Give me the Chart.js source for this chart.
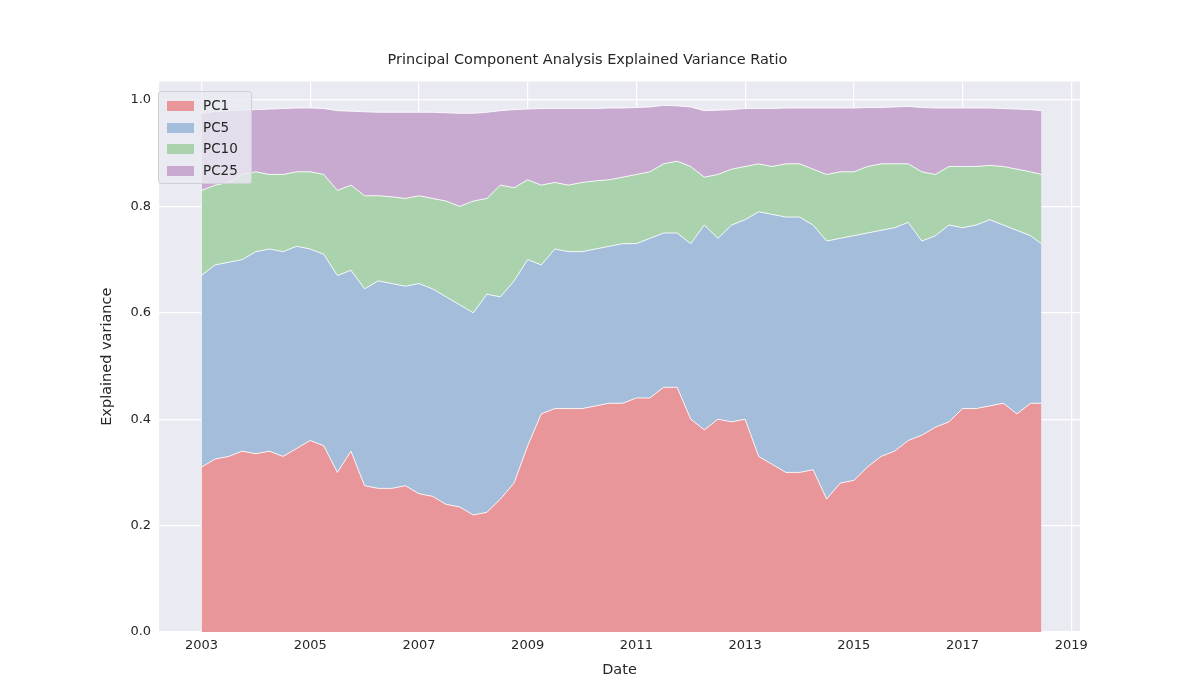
<!DOCTYPE html>
<html><head><meta charset="utf-8">
<script src="https://cdn.jsdelivr.net/npm/chart.js@4"></script>
<style>
body{margin:0;background:#fff;font-family:"DejaVu Sans",sans-serif}
#wrap{position:relative;width:1200px;height:697px}
#leg{position:absolute;left:158px;top:91px;width:92px;padding:3px 0 2px 0;background:rgba(234,234,242,0.8);border:1px solid #cfcfd6;border-radius:3px;font-size:13.5px;color:#262626}
#leg div{height:21.5px;line-height:21.5px;padding-left:8px}
#leg span{display:inline-block;width:27px;height:10px;margin-right:9px;vertical-align:-1px}
</style></head><body>
<div id="wrap"><canvas id="c" width="1200" height="697"></canvas>
<div id="leg"></div></div>
<script>
const years=[2003,2003.25,2003.5,2003.75,2004,2004.25,2004.5,2004.75,2005,2005.25,2005.5,2005.75,2006,2006.25,2006.5,2006.75,2007,2007.25,2007.5,2007.75,2008,2008.25,2008.5,2008.75,2009,2009.25,2009.5,2009.75,2010,2010.25,2010.5,2010.75,2011,2011.25,2011.5,2011.75,2012,2012.25,2012.5,2012.75,2013,2013.25,2013.5,2013.75,2014,2014.25,2014.5,2014.75,2015,2015.25,2015.5,2015.75,2016,2016.25,2016.5,2016.75,2017,2017.25,2017.5,2017.75,2018,2018.25,2018.45];
const pc1=[0.31,0.325,0.33,0.34,0.335,0.34,0.33,0.345,0.36,0.35,0.30,0.34,0.275,0.27,0.27,0.275,0.26,0.255,0.24,0.235,0.22,0.225,0.25,0.28,0.35,0.41,0.42,0.42,0.42,0.425,0.43,0.43,0.44,0.44,0.46,0.46,0.40,0.38,0.40,0.395,0.40,0.33,0.315,0.30,0.30,0.305,0.25,0.28,0.285,0.31,0.33,0.34,0.36,0.37,0.385,0.395,0.42,0.42,0.425,0.43,0.41,0.43,0.43];
const pc5=[0.67,0.69,0.695,0.70,0.715,0.72,0.715,0.725,0.72,0.71,0.67,0.68,0.645,0.66,0.655,0.65,0.655,0.645,0.63,0.615,0.60,0.635,0.63,0.66,0.70,0.69,0.72,0.715,0.715,0.72,0.725,0.73,0.73,0.74,0.75,0.75,0.73,0.765,0.74,0.765,0.775,0.79,0.785,0.78,0.78,0.765,0.735,0.74,0.745,0.75,0.755,0.76,0.77,0.735,0.745,0.765,0.76,0.765,0.775,0.765,0.755,0.745,0.73];
const pc10=[0.83,0.84,0.845,0.86,0.865,0.86,0.86,0.865,0.865,0.86,0.83,0.84,0.82,0.82,0.818,0.815,0.82,0.815,0.81,0.80,0.81,0.815,0.84,0.835,0.85,0.84,0.845,0.84,0.845,0.848,0.85,0.855,0.86,0.865,0.88,0.885,0.875,0.855,0.86,0.87,0.875,0.88,0.875,0.88,0.88,0.87,0.86,0.865,0.865,0.875,0.88,0.88,0.88,0.865,0.86,0.875,0.875,0.875,0.877,0.875,0.87,0.865,0.86];
const pc25=[0.975,0.978,0.98,0.981,0.982,0.983,0.984,0.985,0.985,0.984,0.98,0.979,0.978,0.977,0.977,0.977,0.977,0.977,0.976,0.975,0.975,0.977,0.98,0.982,0.983,0.984,0.984,0.984,0.984,0.984,0.985,0.985,0.986,0.987,0.99,0.989,0.987,0.98,0.981,0.982,0.984,0.984,0.984,0.985,0.985,0.985,0.985,0.985,0.985,0.986,0.986,0.987,0.988,0.986,0.985,0.985,0.985,0.985,0.985,0.984,0.983,0.982,0.98];
const names=['PC1','PC5','PC10','PC25'];
const colors=['rgba(232,150,154,1)','rgba(163,189,218,1)','rgba(170,210,172,1)','rgba(200,170,208,1)'];
const series=[pc1,pc5,pc10,pc25];
const xTicks=[2003,2005,2007,2009,2011,2013,2015,2017,2019];
const yTicks=[0,0.2,0.4,0.6,0.8,1.0];

document.getElementById('leg').innerHTML=names.map((n,i)=>`<div><span style="background:${colors[i]}"></span>${n}</div>`).join('');
const bg={id:'bg',beforeDraw(c){const a=c.chartArea,x=c.ctx;x.save();x.fillStyle='#eaeaf2';x.fillRect(a.left,a.top,a.right-a.left,a.bottom-a.top);x.restore();}};
const font={family:'DejaVu Sans',size:13};
new Chart(document.getElementById('c'),{
type:'line',
data:{datasets:series.map((s,i)=>({label:names[i],data:s.map((v,j)=>({x:years[j],y:v})),backgroundColor:colors[i],borderColor:'rgba(255,255,255,0.85)',borderWidth:1,pointRadius:0,fill:i===0?'origin':'-1',tension:0}))},
options:{responsive:false,animation:false,
layout:{padding:{left:95,right:120,top:30,bottom:14}},
plugins:{legend:{display:false},tooltip:{enabled:false},
title:{display:true,text:'Principal Component Analysis Explained Variance Ratio',color:'#262626',font:{family:'DejaVu Sans',size:14.5,weight:'normal'},padding:{top:22,bottom:12}},
filler:{drawTime:'beforeDatasetsDraw'}},
scales:{
x:{type:'linear',min:2002.22,max:2019.16,afterBuildTicks(s){s.ticks=xTicks.map(v=>({value:v}));},
ticks:{color:'#262626',font,callback:v=>String(v),maxRotation:0,padding:6},
grid:{color:'#ffffff',lineWidth:1.2,drawTicks:false},border:{display:false},
title:{display:true,text:'Date',color:'#262626',font:{family:'DejaVu Sans',size:14.5},padding:{top:2}}},
y:{min:0,max:1.035,afterBuildTicks(s){s.ticks=yTicks.map(v=>({value:v}));},
ticks:{color:'#262626',font,callback:v=>v.toFixed(1),padding:8},
grid:{color:'#ffffff',lineWidth:1.2,drawTicks:false},border:{display:false},
title:{display:true,text:'Explained variance',color:'#262626',font:{family:'DejaVu Sans',size:14.5},padding:{bottom:6}}}
}},
plugins:[bg]});
</script></body></html>
